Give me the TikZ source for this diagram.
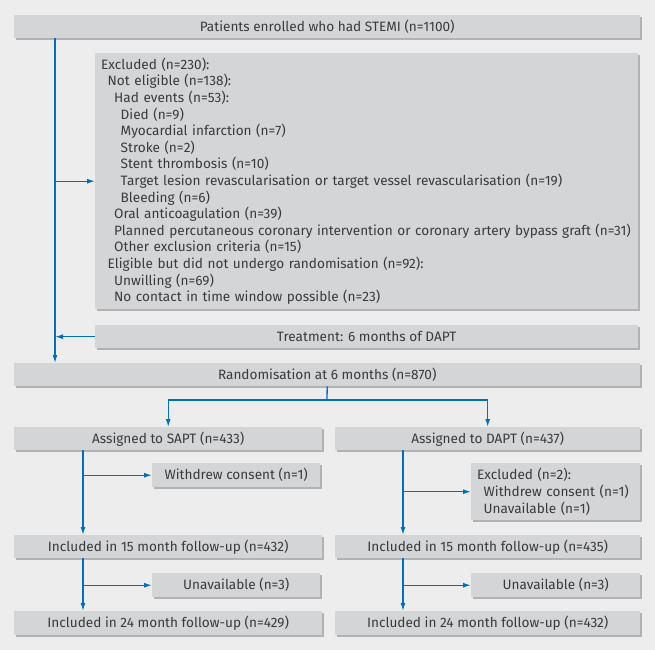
\documentclass[tikz,border=0pt]{standalone}
\usepackage{fontspec}
\setmainfont{Fira Sans}
\usetikzlibrary{arrows.meta,shadows}
\definecolor{bgc}{RGB}{237,237,237}
\definecolor{boxc}{RGB}{212,213,215}
\definecolor{shadc}{RGB}{178,178,180}
\definecolor{txtc}{RGB}{58,58,60}
\definecolor{bluec}{RGB}{0,112,186}
\tikzset{
  box/.style={fill=boxc, inner sep=0pt, anchor=north west, text=txtc,
    font=\fontsize{13.6}{16.6}\selectfont, align=center,
    drop shadow={shadow xshift=2pt, shadow yshift=-2pt, fill=shadc, opacity=1}},
  listbox/.style={box, align=left, inner xsep=6pt},
  conn/.style={draw=bluec, line width=1.3pt},
  arr/.style={conn, -{Latex[length=8pt,width=5pt]}}
}
\newcommand{\ind}[1]{\hspace*{#1}}
\begin{document}
\begin{tikzpicture}[x=1pt,y=-1pt]
\fill[bgc] (0,0) rectangle (655,650);
\useasboundingbox (0,0) rectangle (655,650);
% nodes
\node[box, minimum width=626pt, minimum height=23pt] (top) at (14,15) {Patients enrolled who had STEMI (n=1100)};
\node[listbox, text width=531pt, minimum height=256pt] (excl) at (95,53) {%
Excluded (n=230):\\
\ind{6.5pt}Not eligible (n=138):\\
\ind{13pt}Had events (n=53):\\
\ind{19.5pt}Died (n=9)\\
\ind{19.5pt}Myocardial infarction (n=7)\\
\ind{19.5pt}Stroke (n=2)\\
\ind{19.5pt}Stent thrombosis (n=10)\\
\ind{19.5pt}Target lesion revascularisation or target vessel revascularisation (n=19)\\
\ind{19.5pt}Bleeding (n=6)\\
\ind{13pt}Oral anticoagulation (n=39)\\
\ind{13pt}Planned percutaneous coronary intervention or coronary artery bypass graft (n=31)\\
\ind{13pt}Other exclusion criteria (n=15)\\
\ind{6.5pt}Eligible but did not undergo randomisation (n=92):\\
\ind{13pt}Unwilling (n=69)\\
\ind{13pt}No contact in time window possible (n=23)};
\node[box, minimum width=543pt, minimum height=23pt] (treat) at (95,325) {Treatment: 6 months of DAPT};
\node[box, minimum width=626pt, minimum height=23pt] (rand) at (14,363) {Randomisation at 6 months (n=870)};
\node[box, minimum width=308pt, minimum height=23pt] (sapt) at (14,427) {Assigned to SAPT (n=433)};
\node[box, minimum width=305pt, minimum height=23pt] (dapt) at (335,427) {Assigned to DAPT (n=437)};
\node[box, minimum width=168pt, minimum height=24pt] (wd) at (152,463) {Withdrew consent (n=1)};
\node[listbox, text width=157pt, minimum height=57pt] (ex2) at (471,463) {%
Excluded (n=2):\\
\ind{6.5pt}Withdrew consent (n=1)\\
\ind{6.5pt}Unavailable (n=1)};
\node[box, minimum width=308pt, minimum height=23pt] (l15) at (14,535) {Included in 15 month follow-up (n=432)};
\node[box, minimum width=305pt, minimum height=23pt] (r15) at (335,535) {Included in 15 month follow-up (n=435)};
\node[box, minimum width=168pt, minimum height=24pt] (lun) at (152,573) {Unavailable (n=3)};
\node[box, minimum width=169pt, minimum height=24pt] (run) at (471,573) {Unavailable (n=3)};
\node[box, minimum width=308pt, minimum height=24pt] (l24) at (14,611) {Included in 24 month follow-up (n=429)};
\node[box, minimum width=305pt, minimum height=24pt] (r24) at (335,611) {Included in 24 month follow-up (n=432)};
% spines
\coordinate (spine) at (55,0);
\coordinate (lsp) at (83,0);
\coordinate (rsp) at (403,0);
\coordinate (split) at (327,400);
% connectors
\draw[arr] (top.south -| spine) -- (rand.north -| spine);
\draw[arr] (excl.west -| spine) -- (excl.west);
\draw[arr] (treat.west) -- (treat.west -| spine);
\draw[conn] (rand.south) -- (split);
\draw[arr] (split) -| (sapt.north);
\draw[arr] (split) -| (dapt.north);
\draw[arr] (sapt.south -| lsp) -- (l15.north -| lsp);
\draw[arr] (wd.west -| lsp) -- (wd.west);
\draw[arr] (dapt.south -| rsp) -- (r15.north -| rsp);
\draw[arr] (ex2.west -| rsp) -- (ex2.west);
\draw[arr] (l15.south -| lsp) -- (l24.north -| lsp);
\draw[arr] (lun.west -| lsp) -- (lun.west);
\draw[arr] (r15.south -| rsp) -- (r24.north -| rsp);
\draw[arr] (run.west -| rsp) -- (run.west);
\end{tikzpicture}
\end{document}
